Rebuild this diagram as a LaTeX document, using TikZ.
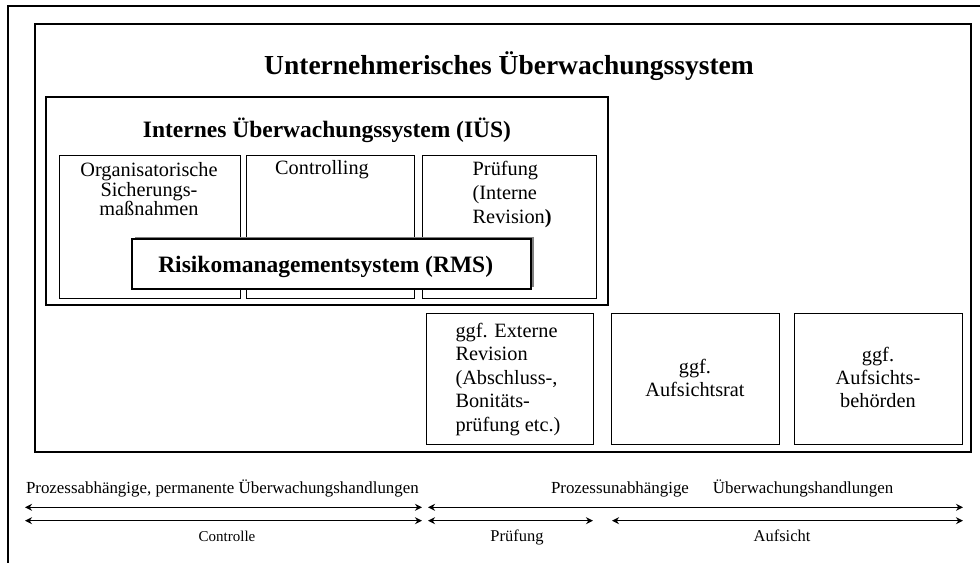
\documentclass[tikz,border=0pt]{standalone}
\usepackage{fontspec}
\setmainfont{Liberation Serif}
\usetikzlibrary{arrows.meta,shadows}
\begin{document}
\begin{tikzpicture}[x=1pt,y=-1pt,
  thickframe/.style={draw,line width=1.8pt,inner sep=0pt,outer sep=0pt},
  thinbox/.style={draw,line width=0.9pt,inner sep=0pt,outer sep=0pt,fill=white},
  rmsbox/.style={draw,line width=1.1pt,inner sep=0pt,outer sep=0pt,fill=white,
    general shadow={shadow xshift=2.5pt,shadow yshift=2.5pt,fill=black!50}},
  boxtxt/.style={inner sep=0pt,outer sep=0pt,font=\fontsize{20.3}{19.5}\selectfont},
  bigtitle/.style={inner sep=0pt,outer sep=0pt,font=\bfseries\fontsize{27.5}{30}\selectfont},
  midtitle/.style={inner sep=0pt,outer sep=0pt,font=\bfseries\fontsize{23.5}{26}\selectfont},
  bottomtxt/.style={inner sep=0pt,outer sep=0pt,font=\fontsize{16.9}{19}\selectfont},
  lbltxt/.style={inner sep=0pt,outer sep=0pt,font=\fontsize{16.5}{19}\selectfont},
  dblarrow/.style={line width=1.2pt,{Stealth[length=7pt,width=7pt]}-{Stealth[length=7pt,width=7pt]}}
]
\useasboundingbox (0,0) rectangle (980,563);

% outer cut frame
\coordinate (otr) at (980,6);
\coordinate (otl) at (8,6);
\coordinate (obl) at (8,563);
\draw[line width=1.3pt] (otr) -- (otl) -- (obl);

% main frame
\node[thickframe,minimum width=936pt,minimum height=428pt] (uframe) at (503,238) {};
\node[bigtitle,anchor=base] (title) at (509,74) {Unternehmerisches Überwachungssystem};

% IUS frame
\node[thickframe,minimum width=562pt,minimum height=208pt] (ius) at (327,201) {};
\node[midtitle,anchor=base] (iustitle) at (327,137) {Internes Überwachungssystem (IÜS)};

% sub boxes
\node[thinbox,minimum width=181pt,minimum height=143pt] (org) at (149.5,226.5) {};
\node[thinbox,minimum width=168pt,minimum height=143pt] (ctrl) at (330,226.5) {};
\node[thinbox,minimum width=174pt,minimum height=143pt] (pruef) at (509,226.5) {};

\node[boxtxt,anchor=north,align=center] (orgtxt) at (149,162.8) {Organisatorische\\Sicherungs-\\maßnahmen};
\node[boxtxt,anchor=base] (ctrltxt) at (322,174.7) {Controlling};
\node[boxtxt,anchor=north west,align=left,font=\fontsize{20.3}{24}\selectfont] (prtxt) at (472.7,161.1) {Prüfung\\(Interne\\Revision\textbf{)}};

% RMS
\node[rmsbox,minimum width=399pt,minimum height=50pt] (rms) at (331.5,264) {};
\node[midtitle,anchor=base] (rmstxt) at (325.7,272) {Risikomanagementsystem (RMS)};

% lower boxes
\node[thinbox,minimum width=167pt,minimum height=131pt] (ext) at (509.5,378.5) {};
\node[thinbox,minimum width=168pt,minimum height=131pt] (ar) at (695,378.5) {};
\node[thinbox,minimum width=168pt,minimum height=131pt] (ab) at (878,378.5) {};

\node[boxtxt,anchor=north west,align=left,font=\fontsize{20.3}{23.4}\selectfont] (exttxt) at (455.5,323.1) {ggf. Externe\\Revision\\(Abschluss-,\\Bonitäts-\\prüfung etc.)};
\node[boxtxt,anchor=north,align=center,font=\fontsize{20.3}{23}\selectfont] (artxt) at (695,359.1) {ggf.\\Aufsichtsrat};
\node[boxtxt,anchor=north,align=center,font=\fontsize{20.3}{23}\selectfont] (abtxt) at (878,347.6) {ggf.\\Aufsichts-\\behörden};

% bottom texts
\node[bottomtxt,anchor=base west] (pa) at (26,493) {Prozessabhängige, permanente Überwachungshandlungen};
\node[bottomtxt,anchor=base west] (pu) at (551,493) {Prozessunabhängige\hspace{24pt}Überwachungshandlungen};

% arrows
\coordinate (a1l) at (25,507.3);
\coordinate (a1r) at (422,507.3);
\coordinate (b1l) at (428,507.3);
\coordinate (b1r) at (963,507.3);
\coordinate (a2l) at (25,520.7);
\coordinate (a2r) at (422,520.7);
\coordinate (p2l) at (428,520.7);
\coordinate (p2r) at (593,520.7);
\coordinate (s2l) at (612,520.7);
\coordinate (s2r) at (963,520.7);
\draw[dblarrow] (a1l) -- (a1r);
\draw[dblarrow] (b1l) -- (b1r);
\draw[dblarrow] (a2l) -- (a2r);
\draw[dblarrow] (p2l) -- (p2r);
\draw[dblarrow] (s2l) -- (s2r);

\node[inner sep=0pt,outer sep=0pt,font=\fontsize{15}{17}\selectfont,anchor=base] (contr) at (227,541.5) {Controlle};
\node[lbltxt,anchor=base] (prlbl) at (517,541) {Prüfung};
\node[lbltxt,anchor=base] (aufs) at (782,541.5) {Aufsicht};
\end{tikzpicture}
\end{document}
